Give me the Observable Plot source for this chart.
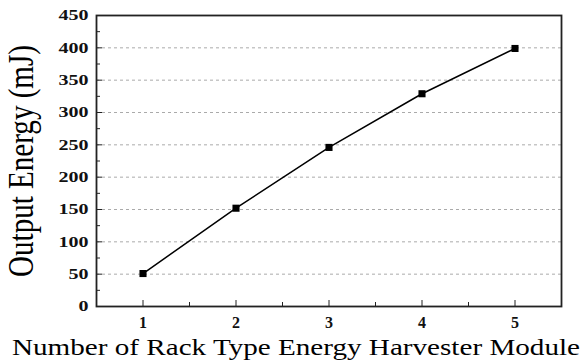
<!DOCTYPE html>
<html><head><meta charset="utf-8">
<script src="https://cdn.jsdelivr.net/npm/d3@7"></script>
<script src="https://cdn.jsdelivr.net/npm/@observablehq/plot@0.6"></script>
<style>body{margin:0;background:#fff}</style>
</head><body><div id="chart"></div>
<script>
const modules = [1, 2, 3, 4, 5];
const energy = [51, 152, 246, 329, 399];
const yTicks = [0, 50, 100, 150, 200, 250, 300, 350, 400, 450];
const yMinor = [25, 75, 125, 175, 225, 275, 325, 375, 425];
const yGrid = [50, 100, 150, 200, 250, 300, 350, 400];
const xTicks = [1, 2, 3, 4, 5];
const xMinor = [1.5, 2.5, 3.5, 4.5];
const xLabel = "Number of Rack Type Energy Harvester Module";
const yLabel = "Output Energy (mJ)";

const data = modules.map((m, i) => ({m, e: energy[i]}));
const font = "'Liberation Serif', 'Times New Roman', serif";

const plot = Plot.plot({
  width: 581, height: 363,
  marginLeft: 96, marginRight: 20, marginTop: 15, marginBottom: 57,
  style: {fontFamily: font, fontSize: "15px", fontWeight: "bold", color: "#111", background: "#fff"},
  x: {domain: [0.5, 5.5]},
  y: {domain: [0, 450]},
  marks: [
    Plot.ruleY(yGrid, {stroke: "#aaa", strokeDasharray: "3,3", strokeWidth: 1}),
    Plot.axisY({ticks: yTicks, tickSize: 0, tickPadding: 8, label: null, tickFormat: d => String(d), className: "ytl"}),
    Plot.axisY({ticks: yTicks, tickSize: -6, text: null, label: null, stroke: "#222"}),
    Plot.axisY({ticks: yMinor, tickSize: -4, text: null, label: null, stroke: "#222"}),
    Plot.axisX({ticks: xTicks, tickSize: 0, tickPadding: 10, label: null, tickFormat: d => String(d), fontSize: 16}),
    Plot.axisX({ticks: xTicks, tickSize: -6, text: null, label: null, stroke: "#222"}),
    Plot.axisX({ticks: xMinor, tickSize: -4, text: null, label: null, stroke: "#222"}),
    Plot.frame({stroke: "#222", strokeWidth: 1.8}),
    Plot.line(data, {x: "m", y: "e", stroke: "#000", strokeWidth: 1.5}),
    Plot.dot(data, {x: "m", y: "e", symbol: "square", r: 4, fill: "#000", stroke: "none"}),
    Plot.text([yLabel], {frameAnchor: "left", textAnchor: "middle", rotate: -90, dx: -75, fontSize: 36, fontWeight: "normal", fill: "#000", className: "ylab"}),
    Plot.text([xLabel], {frameAnchor: "bottom", textAnchor: "middle", dy: 41, dx: -33, fontSize: 23, fontWeight: "normal", fill: "#000", lineAnchor: "middle", className: "xlab"})
  ]
});
document.getElementById("chart").append(plot);
d3.select(plot).selectAll(".ylab text").each(function() {
  const len = this.getComputedTextLength();
  const tr = this.getAttribute("transform") || "";
  this.setAttribute("transform", tr + ` scale(${232 / len},1)`);
});
d3.select(plot).selectAll(".xlab text").attr("textLength", 568).attr("lengthAdjust", "spacingAndGlyphs");
d3.select(plot).selectAll(".ytl text").each(function() {
  const t = this.textContent; d3.select(this).attr("textLength", 10 * t.length).attr("lengthAdjust", "spacingAndGlyphs");
});
</script></body></html>
